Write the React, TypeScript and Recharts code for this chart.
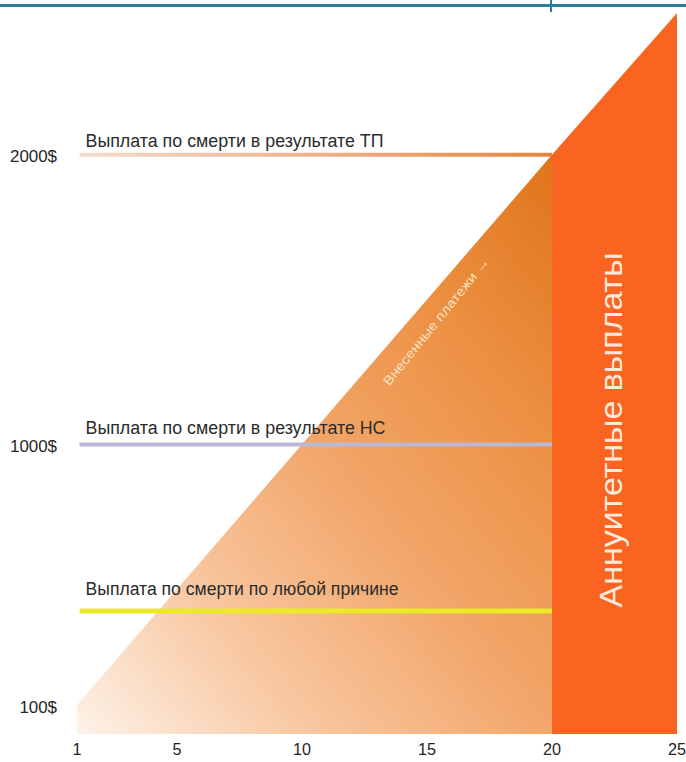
import React from 'react'
import { ComposedChart, Area, XAxis, YAxis, ReferenceLine, ReferenceDot } from 'recharts'

const years = [1, 20, 25]
const paidIn = [100, 2000, null]
const annuity = [null, 2000, 2490]

const xTicks = [1, 5, 10, 15, 20, 25]
const yTicks = [100, 1000, 2000]

const payoutLevels = [2000, 1000, 425]
const payoutLabels = [
  'Выплата по смерти в результате ТП',
  'Выплата по смерти в результате НС',
  'Выплата по смерти по любой причине',
]

const FONT = "'Liberation Sans Narrow', 'Liberation Sans', Arial, sans-serif"

const lineStyles = [
  { stroke: 'url(#tpLine)', width: 4, lift: 8, textWidth: 298 },
  { stroke: '#bab8d4', width: 4, lift: 10, textWidth: 300 },
  { stroke: '#ece82a', width: 5, lift: 16, textWidth: 313 },
]

const chartData = years.map((year, i) => ({ year, paidIn: paidIn[i], annuity: annuity[i] }))

function XTick({ x, y, payload }: any) {
  const label = String(payload.value)
  return (
    <text
      x={x}
      y={y}
      dy="0.71em"
      textAnchor="middle"
      fontFamily={FONT}
      fontSize={17}
      fill="#262626"
      textLength={label.length * 9}
      lengthAdjust="spacingAndGlyphs"
    >
      {label}
    </text>
  )
}

function YTick({ x, y, payload }: any) {
  const label = `${payload.value}$`
  return (
    <text
      x={x}
      y={y}
      dy="0.45em"
      textAnchor="end"
      fontFamily={FONT}
      fontSize={17}
      fill="#262626"
      textLength={label.length * 9.4}
      lengthAdjust="spacingAndGlyphs"
    >
      {label}
    </text>
  )
}

function lineLabel(text: string, lift: number, textWidth: number) {
  return (props: any) => {
    const vb = props.viewBox || {}
    const x = vb.x ?? vb.x1 ?? 0
    const y = vb.y ?? vb.y1 ?? 0
    return (
      <text
        x={x + 6}
        y={y - lift}
        fontFamily={FONT}
        fontSize={18}
        fill="#2b2b2b"
        textLength={textWidth}
        lengthAdjust="spacingAndGlyphs"
      >
        {text}
      </text>
    )
  }
}

export default function App() {
  return (
    <div style={{ position: 'absolute', left: 0, top: 0, width: 686, height: 762, background: '#fff' }}>
      <div style={{ position: 'absolute', left: 0, top: 4, width: 686, height: 3, background: '#2b7d98' }} />
      <div style={{ position: 'absolute', left: 550, top: 0, width: 2, height: 12, background: '#2b7d98' }} />
      <ComposedChart width={686} height={762} data={chartData} margin={{ top: 10, right: 9, bottom: 0, left: 10 }}>
        <defs>
          <linearGradient id="paidFill" x1="0" y1="1" x2="1" y2="0">
            <stop offset="0" stopColor="#fdf2e8" />
            <stop offset="0.25" stopColor="#f8c7a0" />
            <stop offset="0.5" stopColor="#f2a66a" />
            <stop offset="0.75" stopColor="#ec9042" />
            <stop offset="1" stopColor="#e0741a" />
          </linearGradient>
          <linearGradient id="tpLine" gradientUnits="userSpaceOnUse" x1="80" y1="0" x2="556" y2="0">
            <stop offset="0" stopColor="#f1dccd" />
            <stop offset="0.5" stopColor="#eeb28a" />
            <stop offset="1" stopColor="#e4843c" />
          </linearGradient>
        </defs>
        <XAxis
          dataKey="year"
          type="number"
          domain={[1, 25]}
          ticks={xTicks}
          height={28}
          axisLine={false}
          tickLine={false}
          tickSize={0}
          tickMargin={9}
          tick={<XTick />}
        />
        <YAxis
          type="number"
          domain={[0, 2500]}
          ticks={yTicks}
          width={67}
          axisLine={false}
          tickLine={false}
          tickSize={0}
          tickMargin={20}
          tick={<YTick />}
        />
        <Area
          type="linear"
          dataKey="paidIn"
          stroke="none"
          fill="url(#paidFill)"
          fillOpacity={1}
          isAnimationActive={false}
        />
        <Area
          type="linear"
          dataKey="annuity"
          stroke="none"
          fill="#f96420"
          fillOpacity={1}
          isAnimationActive={false}
        />
        {payoutLevels.map((level, i) => (
          <ReferenceLine
            key={level}
            segment={[{ x: 1.1, y: level }, { x: 20, y: level }]}
            stroke={lineStyles[i].stroke}
            strokeWidth={lineStyles[i].width}
            label={lineLabel(payoutLabels[i], lineStyles[i].lift, lineStyles[i].textWidth)}
          />
        ))}
        <ReferenceDot
          x={15.5}
          y={1415}
          r={1}
          shape={(p: any) => (
            <text
              transform={`translate(${p.cx},${p.cy}) rotate(-51)`}
              textAnchor="middle"
              fontFamily={FONT}
              fontSize={13}
              fill="#fbe2c2"
              textLength={160}
              lengthAdjust="spacingAndGlyphs"
            >
              Внесенные платежи   →
            </text>
          )}
        />
        <ReferenceDot
          x={22.5}
          y={1050}
          r={1}
          shape={(p: any) => (
            <text
              transform={`translate(${p.cx + 7},${p.cy}) rotate(-90)`}
              textAnchor="middle"
              fontFamily={FONT}
              fontSize={31}
              fill="#fde8dc"
              textLength={355}
              lengthAdjust="spacingAndGlyphs"
            >
              Аннуитетные выплаты
            </text>
          )}
        />
      </ComposedChart>
    </div>
  )
}
